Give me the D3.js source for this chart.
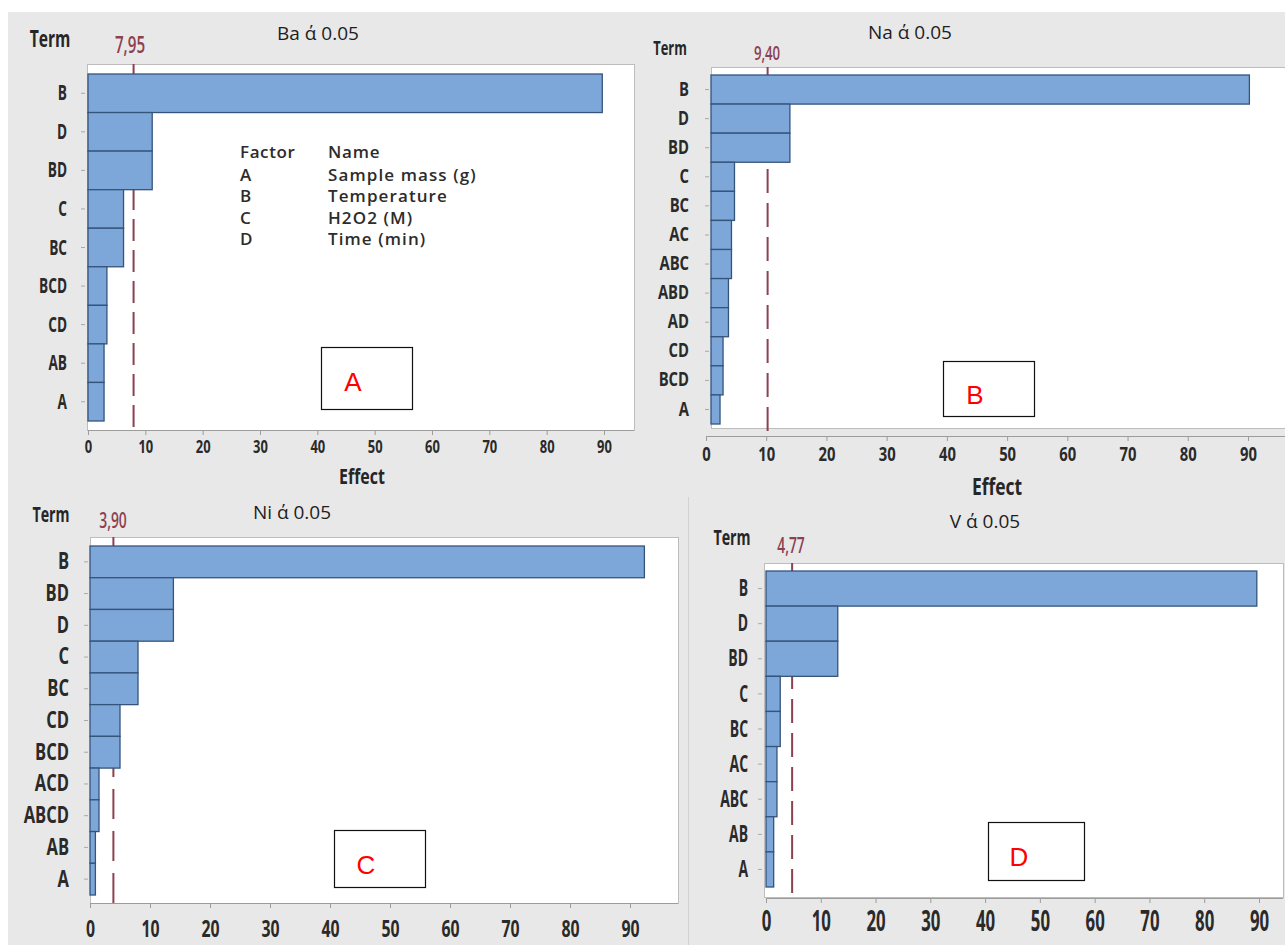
<!DOCTYPE html>
<html>
<head>
<meta charset="utf-8">
<script src="https://cdn.jsdelivr.net/npm/d3@7"></script>
<style>
  body { margin: 0; background: #fff; }
  svg { display: block; }
</style>
</head>
<body>
<div id="chart"></div>
<script>
// ---- data ----
const baTerms = ["B", "D", "BD", "C", "BC", "BCD", "CD", "AB", "A"];
const baEffects = [89.7, 11.2, 11.2, 6.2, 6.2, 3.3, 3.3, 2.8, 2.8];
const baLimit = 7.95;

const naTerms = ["B", "D", "BD", "C", "BC", "AC", "ABC", "ABD", "AD", "CD", "BCD", "A"];
const naEffects = [89.4, 13.1, 13.1, 3.9, 3.9, 3.4, 3.4, 2.9, 2.9, 2.0, 2.0, 1.5];
const naLimit = 9.40;

const niTerms = ["B", "BD", "D", "C", "BC", "CD", "BCD", "ACD", "ABCD", "AB", "A"];
const niEffects = [92.4, 13.9, 13.9, 8.0, 8.0, 5.0, 5.0, 1.5, 1.5, 0.9, 0.9];
const niLimit = 3.90;

const vTerms = ["B", "D", "BD", "C", "BC", "AC", "ABC", "AB", "A"];
const vEffects = [89.6, 13.1, 13.1, 2.6, 2.6, 2.0, 2.0, 1.4, 1.4];
const vLimit = 4.77;

const xTicks = [0, 10, 20, 30, 40, 50, 60, 70, 80, 90];
const factorCodes = ["A", "B", "C", "D"];
const factorNames = ["Sample mass (g)", "Temperature", "H2O2 (M)", "Time (min)"];

const FONT = "'Open Sans', 'Noto Sans', sans-serif";
const barFill = "#7da7d9";
const barStroke = "#35547c";
const limitColor = "#8c4150";

// layout of each panel (pixels), data hooked in from the arrays above
const panels = [
  {
    title: "Ba ά 0.05", terms: baTerms, effects: baEffects, limit: baLimit, letter: "A",
    titlePos: [318, 40], termPos: [50, 47], termHeadSize: 23, limitPos: [130, 53], limitSize: 23,
    box: [87, 64, 634, 430], bars: [74, 421], x0: 88, x90: 604, shift: 0,
    axisY: 430, tickSize: 18, tickSx: 0.72, tickPad: 5,
    termSize: 22, termSx: 0.62, termGap: 20,
    effectPos: [362, 484], effectSize: 21,
    letterBox: [321, 347, 412, 409], letterPos: [353, 391], dash: "22,9"
  },
  {
    title: "Na ά 0.05", terms: naTerms, effects: naEffects, limit: naLimit, letter: "B",
    titlePos: [910, 39], termPos: [670, 55], termHeadSize: 19, limitPos: [767, 60], limitSize: 20,
    box: [711, 67, 1292, 428], bars: [75, 424], x0: 711, x90: 1253, shift: -5,
    axisY: 436, tickSize: 19, tickSx: 0.78, tickPad: 7,
    termSize: 19, termSx: 0.78, termGap: 22,
    effectPos: [997, 495], effectSize: 23,
    letterBox: [943, 361, 1034, 416], letterPos: [975, 404], dash: "24,10"
  },
  {
    title: "Ni ά 0.05", terms: niTerms, effects: niEffects, limit: niLimit, letter: "C",
    titlePos: [292, 519], termPos: [51, 522], termHeadSize: 21, limitPos: [113, 528], limitSize: 21,
    box: [90, 537, 678, 903], bars: [546, 895], x0: 90, x90: 630, shift: 0,
    axisY: 903, tickSize: 24, tickSx: 0.66, tickPad: 12,
    termSize: 23, termSx: 0.72, termGap: 21,
    effectPos: null,
    letterBox: [334, 830, 425, 887], letterPos: [366, 874], dash: "30,12"
  },
  {
    title: "V ά 0.05", terms: vTerms, effects: vEffects, limit: vLimit, letter: "D",
    titlePos: [985, 528], termPos: [732, 545], termHeadSize: 21, limitPos: [791, 553], limitSize: 21,
    box: [764, 563, 1283, 897], bars: [571, 887], x0: 766, x90: 1259, shift: 0,
    axisY: 898, tickSize: 28, tickSx: 0.6, tickPad: 8,
    termSize: 24, termSx: 0.58, termGap: 16,
    effectPos: null,
    letterBox: [988, 822, 1084, 880], letterPos: [1019, 866], dash: "24,10"
  }
];

const svg = d3.select("#chart")
  .append("svg")
  .attr("width", 1285)
  .attr("height", 945);

// grey page background (white strip left and top)
svg.append("rect")
  .attr("x", 8).attr("y", 12)
  .attr("width", 1277).attr("height", 933)
  .attr("fill", "#e8e8e8");

// faint divider between lower panels
svg.append("line")
  .attr("x1", 688.5).attr("x2", 688.5)
  .attr("y1", 497).attr("y2", 945)
  .attr("stroke", "#d2d2d2");

const putText = (g, str, x, y, o) => g.append("text")
  .attr("transform", `translate(${x},${y}) scale(${o.sx || 1},1)`)
  .attr("text-anchor", o.anchor || "middle")
  .attr("font-family", o.family || FONT)
  .attr("font-size", o.size)
  .attr("font-weight", o.weight || 400)
  .attr("fill", o.color || "#262626")
  .text(str);

panels.forEach(p => {
  const g = svg.append("g");
  const [bl, bt, br, bb] = p.box;

  const x = d3.scaleLinear().domain([0, 90]).range([p.x0, p.x90]);
  const xAxisScale = x.copy().range([p.x0 + p.shift, p.x90 + p.shift]);
  const y = d3.scaleBand().domain(p.terms).range(p.bars).padding(0);

  // plot area
  g.append("rect")
    .attr("x", bl + 0.5).attr("y", bt + 0.5)
    .attr("width", br - bl).attr("height", bb - bt)
    .attr("fill", "#fff")
    .attr("stroke", "#bdbdbd");

  // significance limit (under the bars)
  g.append("line")
    .attr("x1", x(p.limit)).attr("x2", x(p.limit))
    .attr("y1", bt).attr("y2", p.axisY)
    .attr("stroke", limitColor)
    .attr("stroke-width", 2)
    .attr("stroke-dasharray", p.dash);

  // bars
  g.selectAll(".bar")
    .data(p.effects)
    .join("rect")
    .attr("class", "bar")
    .attr("x", x(0))
    .attr("y", (d, i) => y(p.terms[i]))
    .attr("width", d => x(d) - x(0))
    .attr("height", y.bandwidth())
    .attr("fill", barFill)
    .attr("stroke", barStroke)
    .attr("stroke-width", 1.3);

  // x axis
  const xa = g.append("g")
    .attr("transform", `translate(0,${p.axisY})`)
    .call(d3.axisBottom(xAxisScale).tickValues(xTicks).tickSize(5).tickPadding(p.tickPad));
  xa.select(".domain").remove();
  xa.selectAll("line").attr("stroke", "#9c9c9c");
  xa.selectAll("text")
    .attr("font-family", FONT)
    .attr("font-size", p.tickSize)
    .attr("font-weight", 700)
    .attr("fill", "#2a2a2a")
    .attr("transform", `scale(${p.tickSx},1)`);

  g.append("line")
    .attr("x1", xAxisScale(0)).attr("x2", br)
    .attr("y1", p.axisY + 0.5).attr("y2", p.axisY + 0.5)
    .attr("stroke", "#9c9c9c");

  // y axis (term labels)
  const ya = g.append("g")
    .attr("transform", `translate(${bl - 2},0)`)
    .call(d3.axisLeft(y).tickSize(4).tickPadding(0));
  ya.select(".domain").remove();
  ya.selectAll("line").attr("stroke", "#a8a8a8");
  ya.selectAll("text")
    .attr("x", -(p.termGap - 2) / p.termSx)
    .attr("font-family", FONT)
    .attr("font-size", p.termSize)
    .attr("font-weight", 700)
    .attr("fill", "#2a2a2a")
    .attr("transform", `scale(${p.termSx},1)`);

  // headings
  putText(g, p.title, p.titlePos[0], p.titlePos[1], { size: 19, color: "#1e1e1e" });
  putText(g, "Term", p.termPos[0], p.termPos[1], { size: p.termHeadSize, sx: 0.68, weight: 700 });
  putText(g, d3.format(".2f")(p.limit).replace(".", ","), p.limitPos[0], p.limitPos[1],
    { size: p.limitSize, sx: 0.66, weight: 600, color: limitColor });
  if (p.effectPos) {
    putText(g, "Effect", p.effectPos[0], p.effectPos[1], { size: p.effectSize, sx: 0.76, weight: 700 });
  }

  // panel letter box
  const [lx1, ly1, lx2, ly2] = p.letterBox;
  g.append("rect")
    .attr("x", lx1 + 0.5).attr("y", ly1 + 0.5)
    .attr("width", lx2 - lx1).attr("height", ly2 - ly1)
    .attr("fill", "#fff")
    .attr("stroke", "#111")
    .attr("stroke-width", 1.2);
  putText(g, p.letter, p.letterPos[0], p.letterPos[1],
    { size: 26, color: "#ff0000", family: "'Liberation Sans', Arial, sans-serif" });
});

// factor legend in the Ba panel
const legend = svg.append("g").attr("transform", "translate(240,158)");
const legendFont = { size: 17, weight: 600, anchor: "start", color: "#2c2c2c" };
putText(legend, "Factor", 0, 0, legendFont).attr("letter-spacing", 0.6);
putText(legend, "Name", 88, 0, legendFont).attr("letter-spacing", 0.8);
legend.selectAll(".row")
  .data(factorCodes)
  .join("g")
  .attr("class", "row")
  .each(function (code, i) {
    const row = d3.select(this);
    const yy = 22.5 + i * 21.5;
    putText(row, code, 0, yy, legendFont);
    putText(row, factorNames[i], 88, yy, legendFont).attr("letter-spacing", 1.1);
  });
</script>
</body>
</html>
